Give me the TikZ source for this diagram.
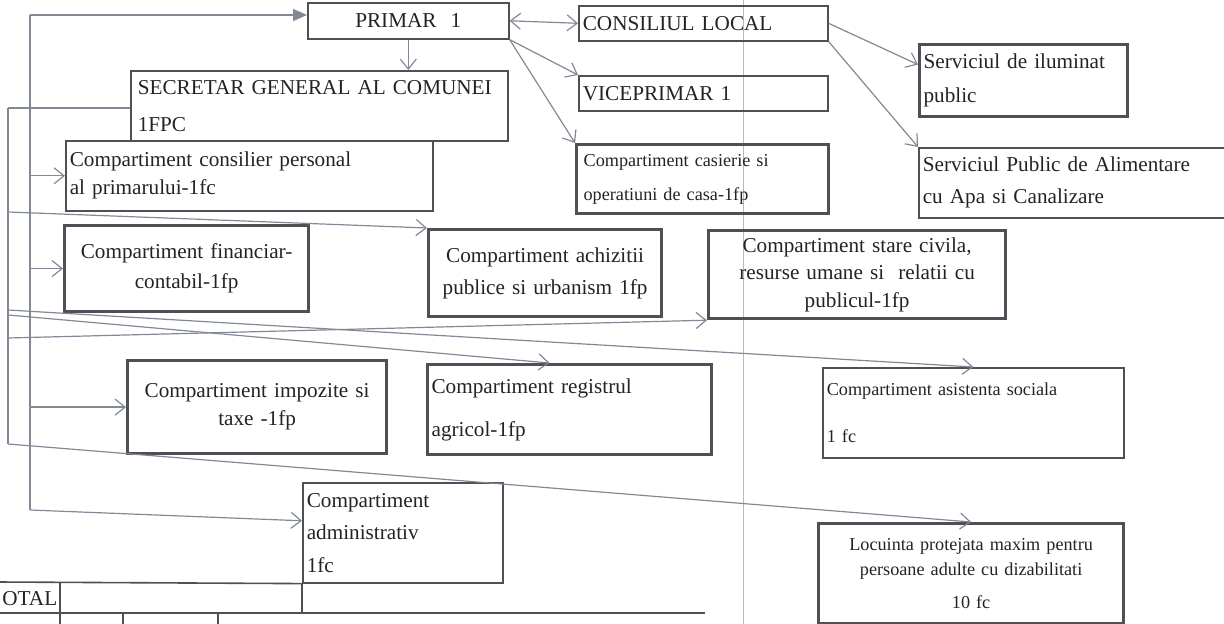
\documentclass[tikz,border=0pt]{standalone}
\usepackage{fontspec}
\setmainfont{Liberation Serif}
\usepackage{tikz}
\usetikzlibrary{arrows.meta}
\definecolor{edge}{RGB}{78,80,86}
\definecolor{wire}{RGB}{130,136,148}
\definecolor{ink}{RGB}{35,35,38}
\definecolor{scanline}{RGB}{170,185,225}
\newcommand{\boxfont}[2]{\fontsize{#1}{#2}\selectfont}
\tikzstyle{box} = [rectangle, draw=edge, line width=0.8pt, inner xsep=2pt, inner ysep=0pt, text=ink, align=left, anchor=north west]
\tikzstyle{heavybox} = [box, line width=1.6pt]
\tikzstyle{line} = [draw=wire, line width=0.6pt]
\tikzstyle{arrow} = [line, -{Straight Barb[length=5pt,width=8pt]}]
\tikzstyle{twoway} = [line, {Straight Barb[length=5pt,width=8pt]}-{Straight Barb[length=5pt,width=8pt]}]
\tikzstyle{tablerule} = [draw=edge, line width=0.8pt]

\begin{document}
\begin{tikzpicture}[x=0.5pt, y=-0.5pt]
	\useasboundingbox (0,0) rectangle (1224,624);
	\draw[scanline, line width=0.5pt] (743,0) -- (743,624);

	\node(primar) [box, align=center, text width=96.5pt, minimum height=18pt, font=\boxfont{10.6}{13}] at (307,2) {PRIMAR\ \ 1};
	\node(consiliu) [box, text width=120.5pt, minimum height=17.5pt, font=\boxfont{10.6}{13}] at (578,5) {CONSILIUL LOCAL};
	\node(viceprimar) [box, text width=120.5pt, minimum height=17.5pt, font=\boxfont{10.6}{13}] at (578,75) {VICEPRIMAR 1};
	\node(secretar) [box, inner xsep=3.5pt, text width=181.5pt, minimum height=35pt, font=\boxfont{10.6}{18.5}] at (130,70) {SECRETAR GENERAL AL COMUNEI\\1FPC};
	\node(consilier) [box, text width=179.5pt, minimum height=35pt, font=\boxfont{10.6}{14}] at (65,140) {Compartiment consilier personal\\al primarului-1fc};
	\node(casierie) [heavybox, inner xsep=3.5pt, text width=119pt, minimum height=34.5pt, font=\boxfont{9.1}{17}] at (575,143) {Compartiment casierie si\\operatiuni de casa-1fp};
	\node(iluminat) [heavybox, text width=100pt, minimum height=36pt, font=\boxfont{10.6}{17}] at (918,43) {Serviciul de iluminat\\public};
	\node(alimentare) [box, text width=156pt, minimum height=35pt, font=\boxfont{10.6}{16}] at (918,147) {Serviciul Public de Alimentare\\cu Apa si Canalizare};
	\node(financiar) [heavybox, align=center, text width=118pt, minimum height=43pt, font=\boxfont{10.6}{15}] at (63,224) {Compartiment financiar-\\contabil-1fp};
	\node(achizitii) [heavybox, align=center, text width=112.5pt, minimum height=43.5pt, font=\boxfont{10.6}{16}] at (427,228) {Compartiment achizitii\\publice si urbanism 1fp};
	\node(starecivila) [heavybox, align=center, text width=144.5pt, minimum height=44pt, font=\boxfont{10.6}{13.75}] at (707,229) {Compartiment stare civila,\\resurse umane si\ \ relatii cu\\publicul-1fp};
	\node(impozite) [heavybox, align=center, text width=125.5pt, minimum height=46.5pt, font=\boxfont{10.6}{14}] at (126,359) {Compartiment impozite si\\taxe -1fp};
	\node(registrul) [heavybox, text width=138pt, minimum height=45pt, font=\boxfont{10.6}{21.5}] at (426,363) {Compartiment registrul\\agricol-1fp};
	\node(asistenta) [box, text width=146.5pt, minimum height=45pt, font=\boxfont{9.1}{23.5}] at (822,367) {Compartiment asistenta sociala\\1 fc};
	\node(administrativ) [box, text width=96pt, minimum height=50pt, font=\boxfont{10.6}{16.25}] at (302,482) {Compartiment\\administrativ\\1fc};
	\node(locuinta) [heavybox, align=center, text width=148.5pt, minimum height=50pt, font=\boxfont{9.1}{12.5}] at (817,522) {Locuinta protejata maxim pentru\\persoane adulte cu dizabilitati\\[4pt]10 fc};
	\node(total) [anchor=west, inner sep=0pt, text=ink, font=\boxfont{10.6}{13}] at (2,599) {OTAL};

	\coordinate (atop) at (30,15);
	\coordinate (abot) at (30,510);
	\coordinate (btop) at (8,108);
	\coordinate (bbot) at (8,444);
	\coordinate (b1) at (8,212);
	\coordinate (b2) at (8,310);
	\coordinate (b3) at (8,315);
	\coordinate (b4) at (8,338);

	\draw[line] (atop) -- (abot);
	\draw[line] (btop) -- (bbot);
	\draw[line, -{Triangle[length=7pt,width=6pt]}] (atop) -- (atop -| primar.west);
	\draw[arrow] (consilier.west -| atop) -- (consilier.west);
	\draw[arrow] (financiar.west -| atop) -- (financiar.west);
	\draw[arrow] (impozite.west -| atop) -- (impozite.west);
	\draw[arrow] (abot) -- ([yshift=6pt]administrativ.west);
	\draw[line] (btop) -- (btop -| secretar.west);
	\draw[arrow] (b1) -- (achizitii.north west);
	\draw[arrow] (b2) -- (asistenta.north);
	\draw[arrow] (b3) -- ([xshift=-10pt]registrul.north);
	\draw[arrow] (b4) -- (starecivila.south west);
	\draw[arrow] (bbot) -- (locuinta.north);
	\draw[arrow] (primar.south) -- (primar.south |- secretar.north);
	\draw[twoway] (primar.east) -- (consiliu.west);
	\draw[arrow] (primar.south east) -- (viceprimar.north west);
	\draw[arrow] (primar.south east) -- (casierie.north west);
	\draw[arrow] (consiliu.east) -- ([yshift=8pt]iluminat.west);
	\draw[arrow] (consiliu.south east) -- (alimentare.north west);

	\draw[tablerule] (-2,582) -- (administrativ.south west) -- (302,613);
	\draw[tablerule] (-2,613) -- (705,613);
	\draw[tablerule] (60,582) -- (60,626);
	\draw[tablerule] (123,613) -- (123,626);
	\draw[tablerule] (218,613) -- (218,626);
\end{tikzpicture}
\end{document}
